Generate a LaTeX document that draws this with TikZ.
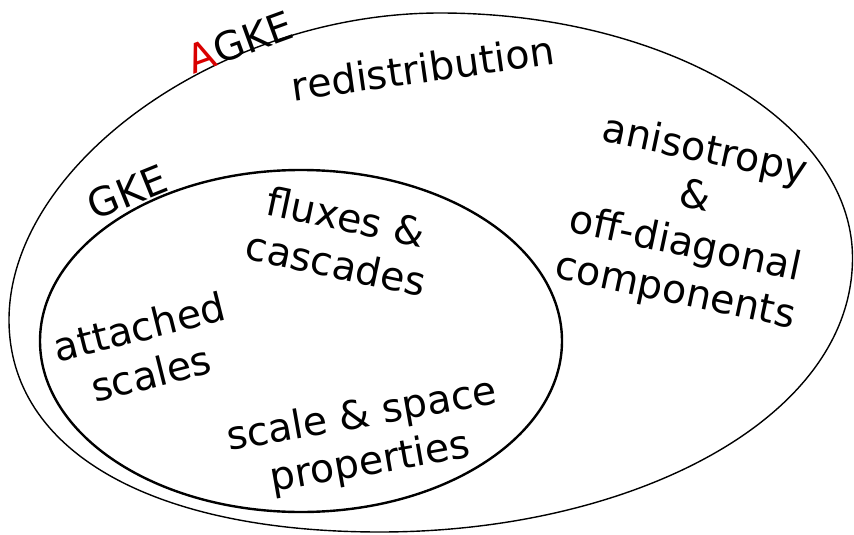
\documentclass[tikz,border=0pt]{standalone}
\usepackage{fontspec}
\setmainfont{DejaVu Sans}
\begin{document}
\begin{tikzpicture}[x=1pt,y=-1pt,
  lbl/.style={font=\fontsize{39.5}{48}\selectfont, align=center, inner sep=0pt},
  outerline/.style={line width=1.4pt},
  innerline/.style={line width=2.4pt}]
\useasboundingbox (0,0) rectangle (854,535);
\coordinate (otop) at (440,13);
\coordinate (oright) at (852.5,258);
\coordinate (obottom) at (380,532);
\coordinate (oleft) at (9,320);
\draw[outerline] (otop) .. controls (665,13) and (852.5,122) .. (oright)
  .. controls (852.5,420) and (630,532) .. (obottom)
  .. controls (150,532) and (9,450) .. (oleft)
  .. controls (9,165) and (220,13) .. (otop) -- cycle;
\draw[innerline] (301,341) ellipse [x radius=261, y radius=171];
\node[lbl, rotate=20] (agke) at (240,42) {\textcolor[rgb]{0.85,0,0}{A}GKE};
\node[lbl, rotate=8] (redis) at (423,68) {redistribution};
\node[lbl, rotate=-12] (aniso) at (690,222) {anisotropy\\\&\\off-diagonal\\components};
\node[lbl, rotate=22] (gke) at (127,192) {GKE};
\node[lbl, rotate=-12] (flux) at (341,240) {fluxes \&\\cascades};
\node[lbl, rotate=14] (attach) at (145,350) {attached\\scales};
\node[lbl, rotate=10] (scale) at (366,440) {scale \& space\\properties};
\end{tikzpicture}
\end{document}
